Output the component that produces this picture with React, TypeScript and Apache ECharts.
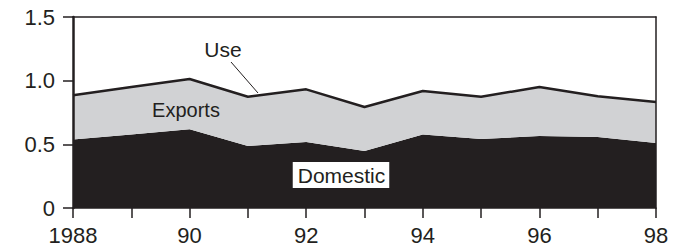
import React, { useEffect, useRef } from "react";
import * as echarts from "echarts";

const years = [1988, 1989, 1990, 1991, 1992, 1993, 1994, 1995, 1996, 1997, 1998];
const domestic = [0.537, 0.577, 0.618, 0.487, 0.518, 0.448, 0.578, 0.542, 0.565, 0.557, 0.51];
const exportsVals = [0.348, 0.373, 0.395, 0.387, 0.414, 0.345, 0.341, 0.332, 0.385, 0.32, 0.323];
const yTicks = [0, 0.5, 1.0, 1.5];
const labelUse = "Use";
const labelExports = "Exports";
const labelDomestic = "Domestic";

const INK = "#231f20";
const GRAY = "#d1d2d4";
const FONT = "'Liberation Sans', Arial, sans-serif";

export default function App() {
  const ref = useRef<HTMLDivElement>(null);
  useEffect(() => {
    document.body.style.margin = "0";
    if (!ref.current) return;
    const chart = echarts.init(ref.current, null, { renderer: "svg" });
    const frameAxis = {
      axisLine: { show: true, onZero: false, lineStyle: { color: INK, width: 1.5 } },
      axisTick: { show: false },
      axisLabel: { show: false },
      splitLine: { show: false },
    };
    chart.setOption({
      animation: false,
      backgroundColor: "#ffffff",
      grid: {
        left: 73,
        right: 23,
        top: 17,
        bottom: 39,
      },
      xAxis: [
        {
          type: "category",
          boundaryGap: false,
          data: years.map(String),
          splitLine: { show: false },
          axisLine: { show: true, lineStyle: { color: INK, width: 1.5 } },
          axisTick: { show: true, length: 10, interval: 0, lineStyle: { color: INK, width: 1.5 } },
          axisLabel: {
            margin: 16,
            interval: 0,
            color: INK,
            fontFamily: FONT,
            fontSize: 22,
            formatter: (v: string) => {
              const n = Number(v);
              if (n % 2 !== 0) return "";
              if (n === years[0]) return v;
              return v.slice(2);
            },
          },
        },
        {
          type: "category",
          position: "top",
          boundaryGap: false,
          data: years.map(String),
          ...frameAxis,
        },
      ],
      yAxis: [
        {
          type: "value",
          min: yTicks[0],
          max: yTicks[yTicks.length - 1],
          interval: 0.5,
          splitLine: { show: false },
          axisLine: { show: true, lineStyle: { color: INK, width: 2.5 } },
          axisTick: { show: true, length: 10, lineStyle: { color: INK, width: 1.5 } },
          axisLabel: {
            margin: 18,
            color: INK,
            fontFamily: FONT,
            fontSize: 22,
            formatter: (v: number) => (v === 0 ? "0" : v.toFixed(1)),
          },
          z: 6,
        },
        {
          type: "value",
          position: "right",
          min: yTicks[0],
          max: yTicks[yTicks.length - 1],
          interval: 0.5,
          ...frameAxis,
          z: 6,
        },
      ],
      series: [
        {
          name: labelDomestic,
          type: "line",
          stack: "total",
          symbol: "none",
          data: domestic,
          lineStyle: { width: 0, color: INK },
          areaStyle: { color: INK, opacity: 1 },
          z: 2,
        },
        {
          name: labelExports,
          type: "line",
          stack: "total",
          symbol: "none",
          data: exportsVals,
          lineStyle: { width: 2.5, color: INK },
          areaStyle: { color: GRAY, opacity: 1 },
          z: 3,
        },
      ],
      graphic: [
        {
          type: "text",
          x: 223,
          y: 49,
          style: {
            text: labelUse,
            fill: INK,
            font: `21px ${FONT}`,
            align: "center",
            verticalAlign: "middle",
          },
          z: 10,
        },
        {
          type: "line",
          shape: { x1: 231, y1: 62, x2: 258, y2: 93 },
          style: { stroke: INK, lineWidth: 1 },
          z: 10,
        },
        {
          type: "text",
          x: 186,
          y: 110,
          style: {
            text: labelExports,
            fill: INK,
            font: `20px ${FONT}`,
            align: "center",
            verticalAlign: "middle",
          },
          z: 10,
        },
        {
          type: "text",
          x: 341,
          y: 175,
          style: {
            text: labelDomestic,
            fill: INK,
            font: `21px ${FONT}`,
            align: "center",
            verticalAlign: "middle",
            backgroundColor: "#ffffff",
            padding: [3, 4, 2, 5],
          },
          z: 10,
        },
      ],
    });
    return () => chart.dispose();
  }, []);
  return <div ref={ref} style={{ width: 679, height: 247 }} />;
}
